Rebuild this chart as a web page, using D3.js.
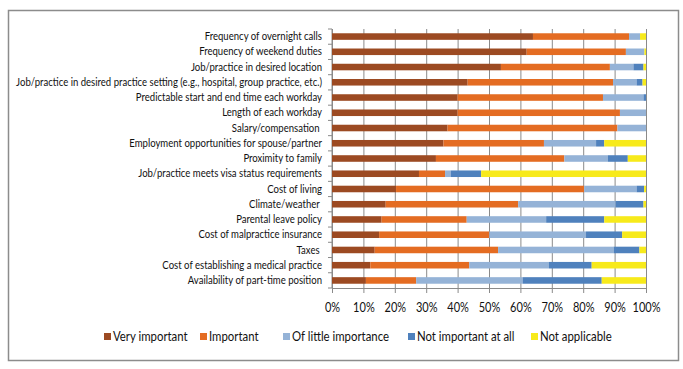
<!DOCTYPE html>
<html>
<head>
<meta charset="utf-8">
<script src="https://cdn.jsdelivr.net/npm/d3@7"></script>
<style>
  body { margin: 0; background: #fff; }
  text { font-family: Lato, "Liberation Sans", Arial, sans-serif; fill: #111; white-space: pre; }
</style>
</head>
<body>
<div id="chart"></div>
<script>
var svgWidth = 683;
var svgHeight = 369;

var margin = { top: 29, right: 37, bottom: 81, left: 332 };
var width = svgWidth - margin.left - margin.right;
var height = svgHeight - margin.top - margin.bottom;

// categories, top to bottom
var categories = [
  "Frequency of overnight calls",
  "Frequency of weekend duties",
  "Job/practice in desired location",
  "Job/practice in desired practice setting (e.g., hospital, group practice, etc.)",
  "Predictable start and end time each workday",
  "Length of each workday",
  "Salary/compensation ",
  "Employment opportunities for spouse/partner",
  "Proximity to family",
  "Job/practice meets visa status requirements",
  "Cost of living",
  "Climate/weather ",
  "Parental leave policy",
  "Cost of malpractice insurance",
  "Taxes ",
  "Cost of establishing a medical practice",
  "Availability of part-time position"
];

var seriesNames = ["Very important", "Important", "Of little importance", "Not important at all", "Not applicable"];
var seriesColors = ["#9c4a22", "#e46c22", "#95b3d7", "#4f81bd", "#f7ea1b"];

// percent values per series, same order as categories
var veryImportant  = [64, 62, 53.8, 43.2, 40, 40, 36.8, 35.5, 33.1, 27.7, 20.4, 17.1, 15.8, 15, 13.6, 12.2, 10.8];
var important      = [30.6, 31.6, 34.7, 46.3, 46.3, 51.7, 54.1, 32, 40.9, 8.3, 59.9, 42.2, 27.1, 35.1, 39.3, 31.5, 16];
var littleImport   = [3.5, 5.9, 7.5, 7.5, 12.9, 8.3, 9.1, 16.6, 13.8, 1.8, 16.7, 31, 25.3, 30.8, 36.8, 25.4, 33.9];
var notImportant   = [0, 0, 3.2, 1.9, 0.8, 0, 0, 2.6, 6.4, 9.7, 2.4, 8.9, 18.5, 11.5, 8.2, 13.6, 25.2];
var notApplicable  = [1.9, 0.5, 0.8, 1.1, 0, 0, 0, 13.3, 5.8, 52.5, 0.6, 0.8, 13.3, 7.6, 2.1, 17.3, 14.1];

var xTicks = [0, 10, 20, 30, 40, 50, 60, 70, 80, 90, 100];

var seriesValues = [veryImportant, important, littleImport, notImportant, notApplicable];
var table = categories.map(function(c, i) {
  var row = { cat: c };
  seriesNames.forEach(function(s, j) { row[s] = seriesValues[j][i]; });
  return row;
});

// squeeze text horizontally (reference font is a narrow Calibri)
function condense(sel, k) {
  sel.each(function() {
    var len = this.getComputedTextLength();
    if (len > 0) {
      d3.select(this)
        .attr("textLength", len * k)
        .attr("lengthAdjust", "spacingAndGlyphs");
    }
  });
}

var svg = d3.select("#chart")
  .append("svg")
  .attr("width", svgWidth)
  .attr("height", svgHeight);

// outer frame
svg.append("rect")
  .attr("x", 8.5).attr("y", 10.5)
  .attr("width", 670).attr("height", 350)
  .attr("fill", "none")
  .attr("stroke", "#8c8c8c")
  .attr("stroke-width", 1.5);

var chartGroup = svg.append("g")
  .attr("transform", `translate(${margin.left}, ${margin.top})`);

var xScale = d3.scaleLinear().domain([0, 100]).range([0, width]);
var yScale = d3.scaleBand().domain(categories).range([0, height]).paddingInner(0.57).paddingOuter(0.28);

// gridlines + bottom labels
var xAxis = d3.axisBottom(xScale)
  .tickValues(xTicks)
  .tickSize(-height)
  .tickPadding(15)
  .tickFormat(d => d + "%");

var xg = chartGroup.append("g")
  .attr("transform", `translate(0, ${height})`)
  .call(xAxis);
xg.select(".domain").attr("stroke", "#8a8a8a");
xg.selectAll(".tick line").attr("stroke", "#8a8a8a").attr("y2", -height).attr("y1", 5);
xg.selectAll(".tick text").style("font-size", "12.5px").attr("fill", "#111").call(condense, 0.88);

// left axis with outside ticks at band boundaries
var yg = chartGroup.append("g");
yg.append("line")
  .attr("x1", 0).attr("x2", 0).attr("y1", 0).attr("y2", height)
  .attr("stroke", "#8a8a8a");
yg.selectAll("line.bt")
  .data(d3.range(categories.length + 1))
  .enter()
  .append("line")
  .attr("class", "bt")
  .attr("x1", -4).attr("x2", 0)
  .attr("y1", d => d * height / categories.length)
  .attr("y2", d => d * height / categories.length)
  .attr("stroke", "#8a8a8a");

var stacked = d3.stack().keys(seriesNames)(table);

chartGroup.selectAll("g.series")
  .data(stacked)
  .enter()
  .append("g")
  .attr("class", "series")
  .attr("fill", (d, i) => seriesColors[i])
  .selectAll("rect")
  .data(d => d)
  .enter()
  .append("rect")
  .attr("x", d => xScale(d[0]))
  .attr("width", d => Math.max(0, xScale(d[1]) - xScale(d[0])))
  .attr("y", d => yScale(d.data.cat))
  .attr("height", yScale.bandwidth());

// category labels
chartGroup.selectAll("text.cat")
  .data(categories)
  .enter()
  .append("text")
  .attr("class", "cat")
  .attr("x", -10)
  .attr("y", d => yScale(d) + yScale.bandwidth() / 2)
  .attr("dy", "0.35em")
  .attr("text-anchor", "end")
  .style("font-size", "10.5px")
  .text(d => d)
  .call(condense, 0.91);

// legend
var legendX = [104, 200, 283, 408, 531];
var legend = svg.append("g").attr("transform", "translate(0, 337)");
var items = legend.selectAll("g")
  .data(seriesNames)
  .enter()
  .append("g")
  .attr("transform", (d, i) => `translate(${legendX[i]}, 0)`);
items.append("rect")
  .attr("x", 0).attr("y", -4)
  .attr("width", 7).attr("height", 7)
  .attr("fill", (d, i) => seriesColors[i]);
items.append("text")
  .attr("x", 9)
  .attr("y", 0)
  .attr("dy", "0.35em")
  .style("font-size", "12.5px")
  .text(d => d)
  .call(condense, 0.91);
</script>
</body>
</html>
